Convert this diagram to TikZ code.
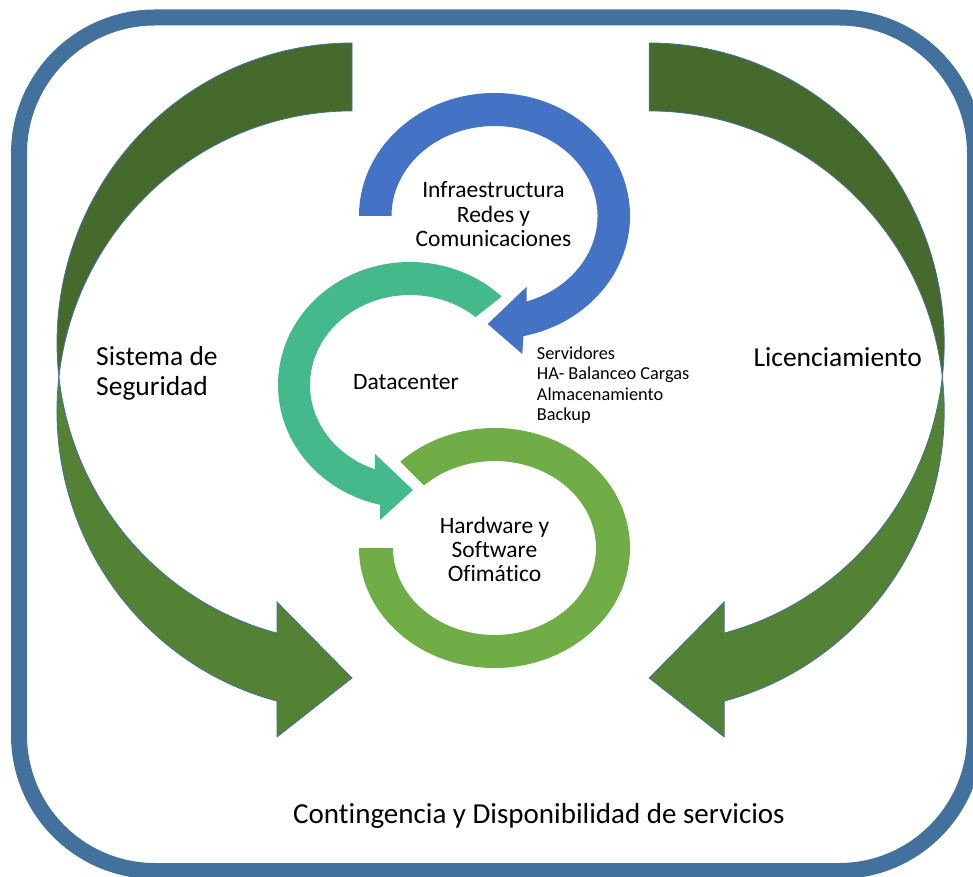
\documentclass[tikz,border=0pt]{standalone}
\usepackage{fontspec}
\setmainfont[Ligatures=NoCommon]{Carlito}
\definecolor{frameblue}{HTML}{41719C}
\definecolor{ringblue}{HTML}{4472C4}
\definecolor{ringteal}{HTML}{44BA8C}
\definecolor{ringgreen}{HTML}{70AD47}
\definecolor{arrowdark}{HTML}{466A2C}
\definecolor{arrowlight}{HTML}{548235}
\newcommand{\BigCurvedArrowShape}{%
  % upper (back) crescent
  \path[arrowback] (352,833)
    arc[start angle=90, end angle=186.5, x radius=295pt, y radius=300pt]
    arc[start angle=173.5, end angle=90, x radius=295pt, y radius=300pt] -- cycle;
  % lower (front) crescent with head
  \path[arrowfront] (58.9,499)
    arc[start angle=173.5, end angle=255.27, x radius=295pt, y radius=300pt]
    -- (277,139) -- (352,198) -- (277,274) -- (277,242.9)
    arc[start angle=255.27, end angle=186.5, x radius=295pt, y radius=300pt] -- cycle;
}
\begin{document}
\begin{tikzpicture}[x=1pt,y=1pt,
  framebox/.style={draw=frameblue, line width=16pt, rounded corners=136pt},
  arrowback/.style={fill=arrowdark, draw=frameblue, line width=0.8pt},
  arrowfront/.style={fill=arrowlight, draw=frameblue, line width=0.8pt},
  txt/.style={inner sep=0pt, text=black},
  bigtxt/.style={txt, font=\fontsize{27.5}{30}\selectfont},
  midtxt/.style={txt, font=\fontsize{23.5}{24.2}\selectfont},
  smalltxt/.style={txt, font=\fontsize{18.3}{20.3}\selectfont}
]
\useasboundingbox (0,0) rectangle (973,876);
\fill[white] (0,0) rectangle (973,876);

% outer frame
\draw[framebox] (19,5) rectangle (975,858.5);

% big curved arrows
\BigCurvedArrowShape
\begin{scope}[xshift=1001.2pt, xscale=-1]
  \BigCurvedArrowShape
\end{scope}

% blue ring: Infraestructura
\begin{scope}[shift={(494.5,660)}]
  \fill[ringblue] (180:135.5pt and 123pt)
    arc[start angle=180, end angle=-77.7, x radius=135.5pt, y radius=123pt]
    -- (27.8,-138) -- (-6.8,-108) -- (32.2,-70.7)
    -- (-71.8:103pt and 90pt)
    arc[start angle=-71.8, end angle=180, x radius=103pt, y radius=90pt] -- cycle;
\end{scope}

% teal ring: Datacenter
\begin{scope}[shift={(410,491)}]
  \fill[ringteal] (46:132pt and 123pt)
    arc[start angle=46, end angle=256.9, x radius=132pt, y radius=123pt]
    -- (-30,-135) -- (3,-105) -- (-35,-69)
    -- (249.5:100pt and 90pt)
    arc[start angle=249.5, end angle=49, x radius=100pt, y radius=90pt] -- cycle;
\end{scope}

% light green ring: Hardware
\begin{scope}[shift={(494.5,328)}]
  \fill[ringgreen] (134:135.5pt and 120pt)
    arc[start angle=134, end angle=-180, x radius=135.5pt, y radius=120pt]
    -- (180:101.5pt and 87pt)
    arc[start angle=-180, end angle=134, x radius=101.5pt, y radius=87pt] -- cycle;
\end{scope}

% texts
\node[midtxt, align=center] (infra) at (493.5,661.8) {Infraestructura\\Redes y\\Comunicaciones};
\node[midtxt, anchor=base] (datac) at (406,486) {Datacenter};
\node[midtxt, align=center] (hw) at (494.5,326.8) {Hardware y\\Software\\Ofimático};
\node[smalltxt, align=left, anchor=west] (serv) at (536.7,490.9) {Servidores\\HA- Balanceo Cargas\\Almacenamiento\\Backup};
\node[bigtxt, align=left, anchor=west] (seg) at (96,502.6) {Sistema de\\Seguridad};
\node[bigtxt, anchor=base] (lic) at (837.7,509) {Licenciamiento};
\node[txt, font=\fontsize{29}{32}\selectfont, anchor=base] (cont) at (539,53) {Contingencia y Disponibilidad de servicios};
\end{tikzpicture}
\end{document}
